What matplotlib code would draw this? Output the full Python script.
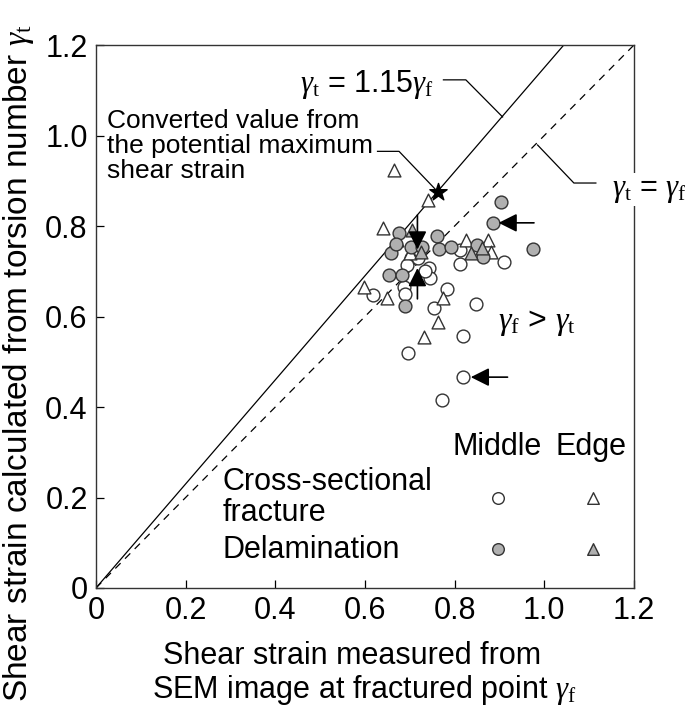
import matplotlib
matplotlib.use("Agg")
import matplotlib.pyplot as plt

plt.rcParams['font.family'] = ['Liberation Sans', 'DejaVu Sans']
plt.rcParams['mathtext.fontset'] = 'custom'
plt.rcParams['mathtext.rm'] = 'Liberation Serif'
plt.rcParams['mathtext.it'] = 'Liberation Serif:italic'

# Cross-sectional fracture, middle (open circles)
cs_mid_x = [0.813, 0.813, 0.909, 0.702, 0.718, 0.694, 0.743, 0.746, 0.617, 0.686,
            0.690, 0.784, 0.753, 0.847, 0.818, 0.697, 0.818, 0.771, 0.722, 0.735]
cs_mid_y = [0.748, 0.716, 0.720, 0.729, 0.729, 0.714, 0.707, 0.684, 0.647, 0.665,
            0.650, 0.661, 0.619, 0.628, 0.557, 0.519, 0.466, 0.415, 0.745, 0.700]
# Cross-sectional fracture, edge (open triangles)
cs_edge_x = [0.664, 0.740, 0.641, 0.825, 0.875, 0.672, 0.880, 0.597, 0.650, 0.775,
             0.764, 0.731, 0.700]
cs_edge_y = [0.924, 0.857, 0.795, 0.769, 0.770, 0.770, 0.743, 0.665, 0.641, 0.641,
             0.588, 0.555, 0.740]
# Delamination, middle (gray circles)
de_mid_x = [0.903, 0.885, 0.676, 0.760, 0.702, 0.728, 0.765, 0.793, 0.851, 0.864,
            0.974, 0.659, 0.653, 0.683, 0.690, 0.670]
de_mid_y = [0.852, 0.807, 0.784, 0.778, 0.754, 0.754, 0.749, 0.753, 0.758, 0.731,
            0.749, 0.740, 0.692, 0.692, 0.623, 0.760]
# Delamination, edge (gray triangles)
de_edge_x = [0.705, 0.836, 0.860, 0.725]
de_edge_y = [0.791, 0.740, 0.752, 0.742]

star_x, star_y = [0.763], [0.876]

ticks = [0, 0.2, 0.4, 0.6, 0.8, 1.0, 1.2]
tick_labels = ['0', '0.2', '0.4', '0.6', '0.8', '1.0', '1.2']

GRAY = '#b0b0b0'
EDGE = '#333333'

W, H = 685, 719
fig = plt.figure(figsize=(6.85, 7.19), dpi=100)
ax = fig.add_axes([0.1401, 0.1822, 0.7854, 0.7552])
ax.set_xlim(0, 1.2)
ax.set_ylim(0, 1.2)

# reference lines
ax.plot([0, 1.2 / 1.15], [0, 1.2], color='black', lw=0.9, zorder=1)
ax.plot([0, 1.2], [0, 1.2], color='black', lw=0.9, ls=(0, (6, 5)), zorder=1)

ms = 85
ax.scatter(cs_mid_x, cs_mid_y, s=ms, marker='o', facecolor='white', edgecolor=EDGE, lw=1.0, zorder=3)
ax.scatter(cs_edge_x, cs_edge_y, s=ms, marker='^', facecolor='white', edgecolor=EDGE, lw=1.0, zorder=3)
ax.scatter(de_mid_x, de_mid_y, s=ms, marker='o', facecolor=GRAY, edgecolor=EDGE, lw=1.0, zorder=3)
ax.scatter(de_edge_x, de_edge_y, s=ms, marker='^', facecolor=GRAY, edgecolor=EDGE, lw=1.0, zorder=3)
ax.scatter(star_x, star_y, s=170, marker='*', color='black', zorder=4)

# arrows
arrow_kw = dict(arrowstyle='-|>', color='black', lw=1.2, mutation_scale=28, shrinkA=0, shrinkB=0)
ax.annotate('', xy=(0.717, 0.748), xytext=(0.717, 0.824), arrowprops=arrow_kw, zorder=5)
ax.annotate('', xy=(0.717, 0.707), xytext=(0.717, 0.639), arrowprops=arrow_kw, zorder=5)
ax.annotate('', xy=(0.898, 0.807), xytext=(0.977, 0.807), arrowprops=arrow_kw, zorder=5)
ax.annotate('', xy=(0.836, 0.466), xytext=(0.918, 0.466), arrowprops=arrow_kw, zorder=5)

# leader lines
ax.plot([0.775, 0.825, 0.907], [1.123, 1.123, 1.041], color='black', lw=0.9, zorder=2)
ax.plot([0.985, 1.066, 1.115], [0.979, 0.895, 0.895], color='black', lw=0.9, zorder=2, clip_on=False)
ax.plot([0.628, 0.676, 0.762], [0.965, 0.965, 0.876], color='black', lw=0.9, zorder=2)

ax.text(0.755, 1.112, r'$\mathit{\gamma}_{\mathrm{t}}$ = 1.15$\mathit{\gamma}_{\mathrm{f}}$',
        fontsize=22, ha='right', va='center')
ax.text(1.150, 0.880, r'$\mathit{\gamma}_{\mathrm{t}}$ = $\mathit{\gamma}_{\mathrm{f}}$',
        fontsize=22, ha='left', va='center', clip_on=False, zorder=6,
        bbox=dict(facecolor='white', edgecolor='none', pad=1))
ax.text(0.025, 1.058, 'Converted value from\nthe potential maximum\nshear strain',
        fontsize=19, ha='left', va='top', linespacing=1.05)
ax.text(0.896, 0.586, r'$\mathit{\gamma}_{\mathrm{f}}$ > $\mathit{\gamma}_{\mathrm{t}}$',
        fontsize=23, ha='left', va='center')

# legend-like block
ax.text(0.796, 0.312, 'Middle', fontsize=22, ha='left', va='center')
ax.text(1.026, 0.312, 'Edge', fontsize=22, ha='left', va='center')
ax.text(0.282, 0.234, 'Cross-sectional', fontsize=22, ha='left', va='center')
ax.text(0.282, 0.166, 'fracture', fontsize=22, ha='left', va='center')
ax.text(0.282, 0.084, 'Delamination', fontsize=22, ha='left', va='center')
lg = 70
ax.scatter([0.896], [0.199], s=lg, marker='o', facecolor='white', edgecolor=EDGE, lw=1.0, zorder=3)
ax.scatter([1.108], [0.199], s=lg, marker='^', facecolor='white', edgecolor=EDGE, lw=1.0, zorder=3)
ax.scatter([0.896], [0.086], s=lg, marker='o', facecolor=GRAY, edgecolor=EDGE, lw=1.0, zorder=3)
ax.scatter([1.108], [0.086], s=lg, marker='^', facecolor=GRAY, edgecolor=EDGE, lw=1.0, zorder=3)

ax.set_xticks(ticks)
ax.set_xticklabels(tick_labels)
ax.set_yticks(ticks)
ax.set_yticklabels(tick_labels)
ax.tick_params(direction='in', length=6, width=0.9, labelsize=22, pad=6)
for sp in ax.spines.values():
    sp.set_linewidth(1.0)
    sp.set_color('#333333')

# x-axis title (two lines)
fig.text(352 / W, 1 - 656 / H, 'Shear strain measured from', fontsize=22, ha='center', va='center')
fig.text(364 / W, 1 - 690 / H, 'SEM image at fractured point $\\mathit{\\gamma}_{\\mathrm{f}}$',
         fontsize=22, ha='center', va='center')

ax.set_ylabel('Shear strain calculated from torsion number $\\mathit{\\gamma}_{\\mathrm{t}}$',
              fontsize=24)
ax.yaxis.set_label_coords(-0.112, 0.415)

fig.savefig('out.png', dpi=100)
